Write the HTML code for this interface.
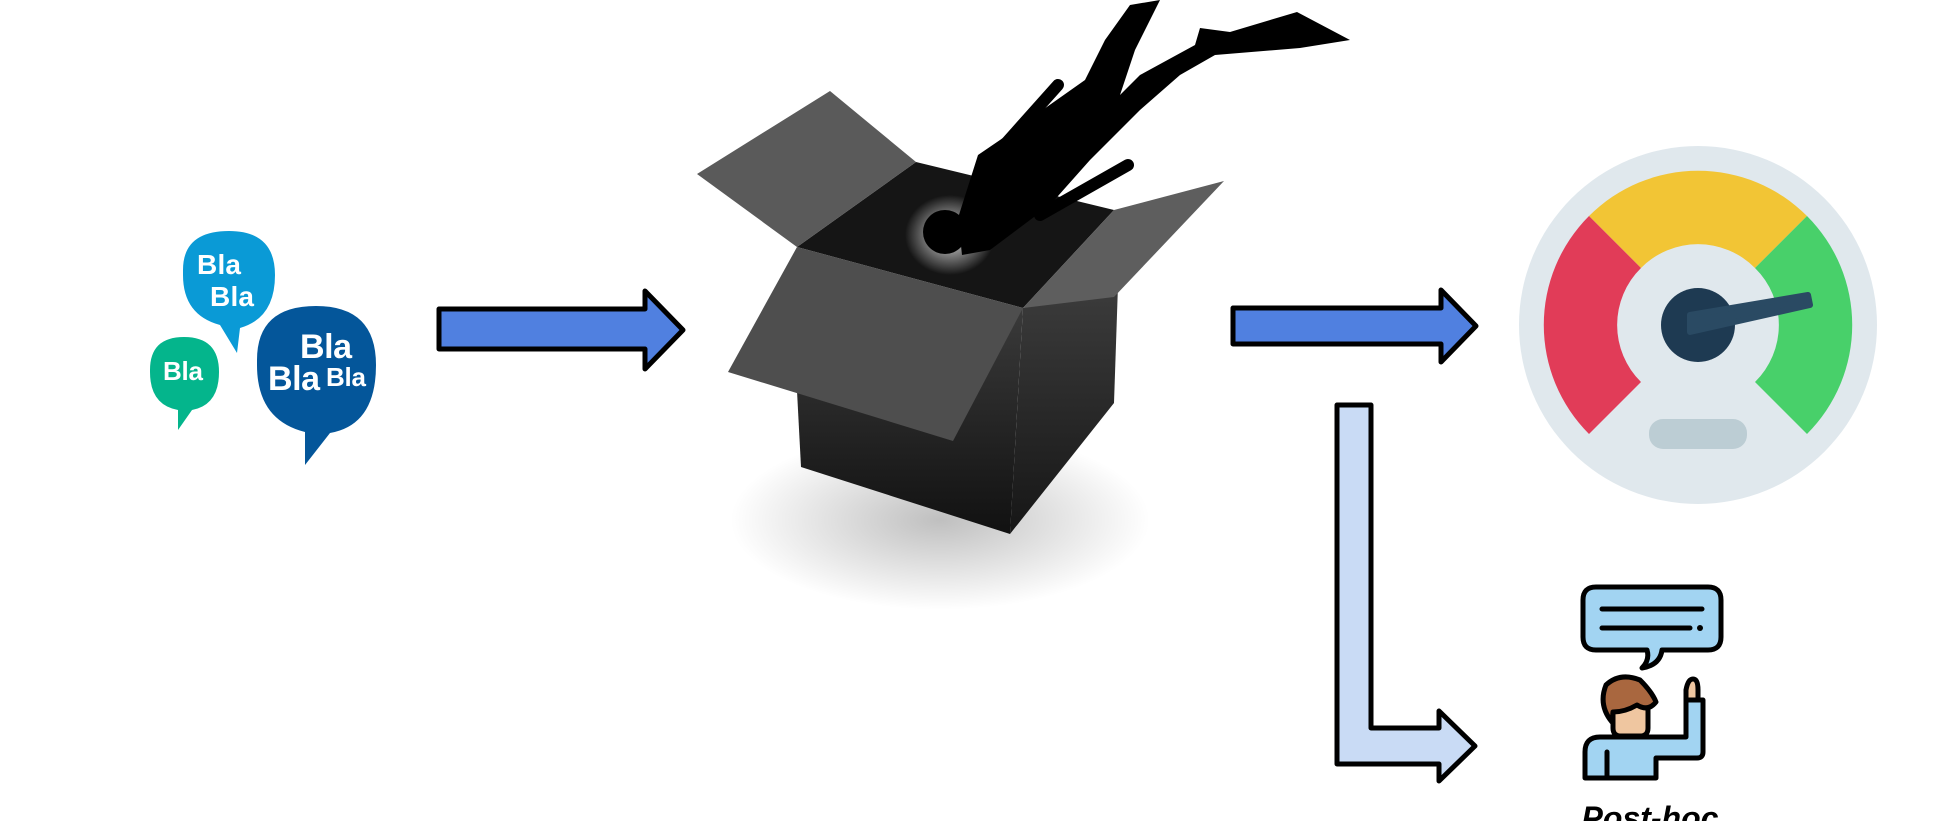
<!DOCTYPE html>
<html><head><meta charset="utf-8"><style>
html,body{margin:0;padding:0;background:#fff;}
svg{display:block;}
</style></head><body>
<svg width="1957" height="821" viewBox="0 0 1957 821" xmlns="http://www.w3.org/2000/svg">
<defs>
<radialGradient id="sh" cx="0.5" cy="0.5" r="0.5">
<stop offset="0" stop-color="#000" stop-opacity="0.25"/><stop offset="1" stop-color="#000" stop-opacity="0"/>
</radialGradient>
<radialGradient id="glow" cx="0.5" cy="0.5" r="0.5">
<stop offset="0" stop-color="#fff" stop-opacity="0.9"/><stop offset="1" stop-color="#fff" stop-opacity="0"/>
</radialGradient>
<linearGradient id="ff" x1="0" y1="0" x2="0" y2="1"><stop offset="0" stop-color="#3a3a3a"/><stop offset="1" stop-color="#111"/></linearGradient>
<linearGradient id="rf" x1="0" y1="0" x2="0" y2="1"><stop offset="0" stop-color="#3c3c3c"/><stop offset="1" stop-color="#161616"/></linearGradient>
</defs>
<!-- Bla bubbles -->
<g font-family="Liberation Sans, sans-serif" font-weight="bold" fill="#fff">
<path d="M183,270 Q183,231 229,231 Q275,231 275,275 Q275,318 240,328 L237,353 L220,325 Q183,315 183,275 Z" fill="#0a9ad6"/>
<text x="197" y="274" font-size="28" fill="#fff" textLength="44">Bla</text>
<text x="210" y="306" font-size="28" fill="#fff" textLength="44">Bla</text>
<path d="M150,370 Q150,337 184,337 Q219,337 219,372 Q219,405 192,410 L178,430 L178,410 Q150,405 150,372 Z" fill="#04b58c"/>
<text x="163" y="380" font-size="26" fill="#fff" textLength="40">Bla</text>
<path d="M257,360 Q257,306 316,306 Q376,306 376,365 Q376,425 330,433 L305,465 L305,432 Q257,420 257,365 Z" fill="#04569a"/>
<text x="300" y="358" font-size="34" fill="#fff" textLength="52">Bla</text>
<text x="268" y="390" font-size="34" fill="#fff" textLength="52">Bla</text>
<text x="326" y="386" font-size="26" fill="#fff" textLength="40">Bla</text>
</g>
<!-- Arrow 1 -->
<path d="M439,309 L645,309 L645,291 L683,330 L645,369 L645,349 L439,349 Z" fill="#5080e0" stroke="#000" stroke-width="5" stroke-linejoin="round"/>
<!-- Arrow 2 -->
<path d="M1233,308 L1441,308 L1441,290 L1476,326 L1441,362 L1441,344 L1233,344 Z" fill="#5080e0" stroke="#000" stroke-width="5" stroke-linejoin="round"/>
<!-- L arrow -->
<path d="M1337,405 L1371,405 L1371,728 L1439,728 L1439,711 L1475,746 L1439,781 L1439,764 L1337,764 Z" fill="#c9dbf5" stroke="#000" stroke-width="5" stroke-linejoin="round"/>
<!-- Box -->
<ellipse cx="940" cy="520" rx="210" ry="90" fill="url(#sh)"/>
<polygon points="916,162 1114,210 1023,308 797,247" fill="#151515"/>
<ellipse cx="950" cy="235" rx="45" ry="40" fill="url(#glow)"/>
<polygon points="697,174 830,91 916,162 797,247" fill="#5a5a5a"/>
<polygon points="797,391 1023,308 1010,534 801,467" fill="url(#ff)"/>
<polygon points="1023,308 1118,285 1114,403 1010,534" fill="url(#rf)"/>
<polygon points="1114,210 1224,181 1114,297 1023,308" fill="#5e5e5e"/>
<polygon points="797,247 1023,308 953,441 728,372" fill="#4e4e4e"/>
<!-- Diver -->
<g fill="#000">
<circle cx="945" cy="232" r="22"/>
<polygon points="958,218 978,155 1000,140 1085,80 1105,40 1130,5 1160,0 1135,50 1120,95 1140,75 1195,45 1200,28 1230,32 1297,12 1350,40 1300,48 1215,55 1180,75 1140,110 1090,160 1050,205 990,250 962,255"/>
<path d="M1000,150 L1058,85 M1040,215 L1128,165" stroke="#000" stroke-width="12" stroke-linecap="round"/>
</g>
<!-- Gauge -->
<circle cx="1698" cy="325" r="179" fill="#e0e8ed"/>
<path d="M1589,216 A154,154 0 0 1 1807,216 L1755,268 A80,80 0 0 0 1641,268 Z" fill="#f2c535"/>
<path d="M1589,216 A154,154 0 0 0 1589,434 L1641,382 A80,80 0 0 1 1641,268 Z" fill="#e13c58"/>
<path d="M1807,216 A154,154 0 0 1 1807,434 L1755,382 A80,80 0 0 0 1755,268 Z" fill="#48d06a"/>
<rect x="1649" y="419" width="98" height="30" rx="14" fill="#bccdd4"/>
<circle cx="1698" cy="325" r="37" fill="#1e3a52"/>
<path d="M1690,332 L1810,305 L1808,295 L1690,315 Z" fill="#2a4a63" stroke="#2a4a63" stroke-width="6" stroke-linejoin="round"/>
<!-- Person icon -->
<g stroke="#000" stroke-width="5" stroke-linejoin="round" stroke-linecap="round">
<path d="M1596,587 L1708,587 Q1721,587 1721,600 L1721,637 Q1721,650 1708,650 L1662,650 Q1660,665 1642,668 Q1650,660 1647,650 L1596,650 Q1583,650 1583,637 L1583,600 Q1583,587 1596,587 Z" fill="#a2d4f2"/>
<path d="M1602,609 L1702,609 M1602,628 L1690,628" fill="none"/>
<path d="M1585,778 L1585,752 Q1585,737 1600,737 L1686,737 L1686,700 L1703,700 L1703,752 Q1703,758 1697,758 L1656,758 L1656,778 Z" fill="#a2d4f2"/>
<path d="M1607,752 L1607,778" fill="none"/>
<path d="M1686,700 L1686,690 Q1688,679 1693,679 Q1698,679 1698,690 L1698,700 Z" fill="#efc6a0"/>
<path d="M1613,705 L1613,728 Q1613,736 1621,736 L1640,736 Q1648,736 1648,728 L1648,705 Z" fill="#efc6a0"/>
<path d="M1612,722 Q1598,705 1606,685 Q1620,672 1640,680 Q1652,692 1656,702 Q1648,712 1637,705 Q1625,712 1613,712 Z" fill="#a9673f"/>
</g>
<circle cx="1700" cy="628" r="3" fill="#000"/>
<text x="1650" y="829" text-anchor="middle" font-family="Liberation Sans, sans-serif" font-weight="bold" font-style="italic" font-size="32" fill="#000">Post-hoc</text>
</svg>
</body></html>
